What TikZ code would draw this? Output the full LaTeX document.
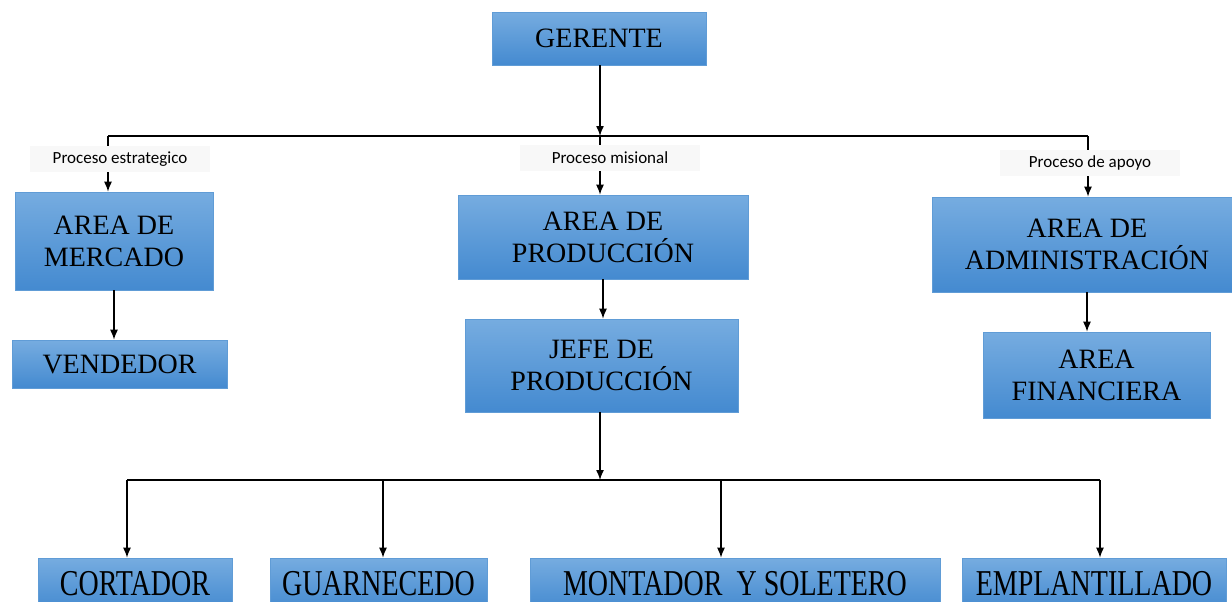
\documentclass[tikz,border=0pt]{standalone}
\usepackage{fontspec}
\setmainfont{Liberation Serif}
\newfontfamily\procfont{Carlito}
\usetikzlibrary{arrows.meta}
\definecolor{cargotop}{RGB}{118,172,224}
\definecolor{cargobot}{RGB}{68,138,208}
\definecolor{cargoedge}{RGB}{96,156,214}
\definecolor{procfill}{RGB}{248,248,248}
\newcommand{\alto}[1]{\scalebox{1}[1.3]{#1}}
\begin{document}
\begin{tikzpicture}[x=0.5pt, y=-0.5pt]

      \tikzset{
        cargo/.style={
          rectangle, inner sep=0pt, align=center,
          top color=cargotop, bottom color=cargobot,
          draw=cargoedge, line width=0.3pt,
          font=\fontsize{14}{16}\selectfont,
        },
        proceso/.style={
          fill=procfill, inner sep=1pt,
          minimum width=90pt, minimum height=13pt,
          font=\procfont\fontsize{8.5}{9}\selectfont,
        },
        link/.style={
          line width=0.7pt,
          -{Latex[length=5pt,width=4pt]},
        },
      }

      \useasboundingbox (0,0) rectangle (1232,601);
      \clip (0,0) rectangle (1232,601);

      \node[cargo, minimum width=107pt, minimum height=26.5pt] (gerente) at (599,38.5) {GERENTE};

      \node[proceso] (estrategico) at (120,159) {Proceso estrategico};
      \node[proceso] (misional) at (610,158) {Proceso misional};
      \node[proceso] (apoyo) at (1090,163) {Proceso de apoyo};

      \node[cargo, minimum width=99pt, minimum height=49pt] (mercado) at (114,241) {AREA DE\\MERCADO};
      \node[cargo, minimum width=107.5pt, minimum height=24pt] (vendedor) at (119.5,364) {VENDEDOR};
      \node[cargo, minimum width=145pt, minimum height=42pt] (produccion) at (603,237) {AREA DE\\PRODUCCIÓN};
      \node[cargo, minimum width=136.5pt, minimum height=46.5pt] (jefe) at (601.5,365.5) {JEFE DE\\PRODUCCIÓN};
      \node[cargo, minimum width=155pt, minimum height=47.5pt] (admin) at (1087,244.5) {AREA DE\\ADMINISTRACIÓN};
      \node[cargo, minimum width=113.5pt, minimum height=43pt] (financiera) at (1096.5,375) {AREA\\FINANCIERA};

      \foreach \nom/\cx/\w/\txt in {cortador/135/97/CORTADOR, guarnecedo/378.5/108.5/GUARNECEDO,
          montador/735/205/MONTADOR\ \ Y SOLETERO, emplantillado/1094/132/EMPLANTILLADO} {
        \node[cargo, minimum width=\w pt, minimum height=26pt] (\nom) at (\cx,584) {\alto{\txt}};
      }

      % reparto superior
      \coordinate (ramaE) at (108,136);
      \coordinate (ramaM) at (600,136);
      \coordinate (ramaA) at (1088,136);
      \draw[link] (gerente.south -| ramaM) -- (ramaM);
      \draw[line width=0.7pt] (ramaE) -- (ramaA);
      \foreach \r/\p/\b in {ramaE/estrategico/mercado, ramaM/misional/produccion, ramaA/apoyo/admin} {
        \draw[line width=0.7pt] (\r) -- (\r |- \p.north);
        \draw[link] (\r |- \p.south) -- (\r |- \b.north);
      }

      \draw[link] (mercado.south) -- (mercado.south |- vendedor.north);
      \draw[link] (produccion.south) -- (produccion.south |- jefe.north);
      \draw[link] (admin.south) -- (admin.south |- financiera.north);

      % reparto inferior
      \coordinate (base) at (600,480);
      \draw[link] (jefe.south -| base) -- (base);
      \draw[line width=0.7pt] (127,480) coordinate (baseI) -- (1100,480) coordinate (baseD);
      \foreach \nom/\x in {cortador/127, guarnecedo/383, montador/721, emplantillado/1100} {
        \coordinate (b\nom) at (\x,480);
        \draw[link] (b\nom) -- (b\nom |- \nom.north);
      }

    \end{tikzpicture}
\end{document}
